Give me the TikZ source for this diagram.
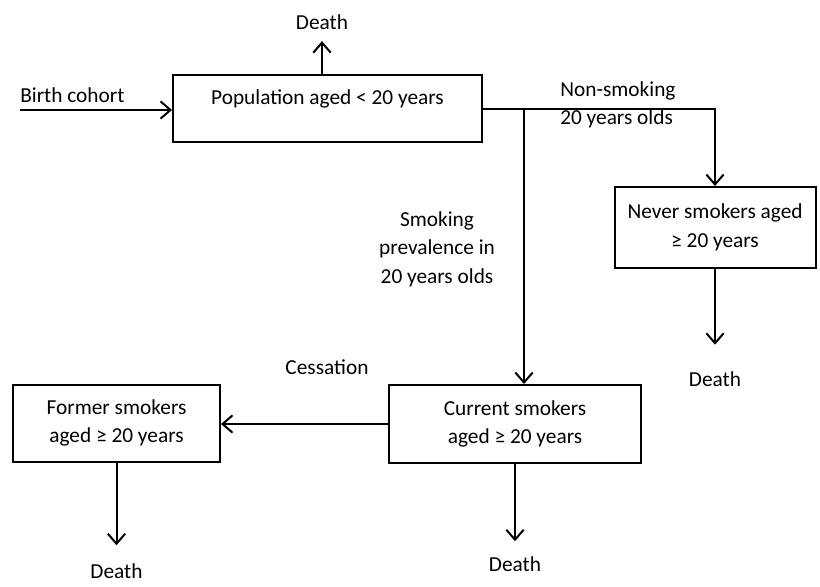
\documentclass[tikz,border=0pt]{standalone}
\usepackage{fontspec}
\setmainfont{Carlito}
\usepackage{tikz}
\usetikzlibrary{arrows.meta}
\usetikzlibrary{calc,positioning}

\tikzset{
    stage/.style={draw, line width=1.5pt, inner sep=0pt, align=center,
        font=\fontsize{16}{21.4}\selectfont},
    label/.style={inner sep=0pt, font=\fontsize{16}{21.4}\selectfont},
    death/.style={label, text height=10.5pt, text depth=0pt},
    flow/.style={-{Straight Barb[length=7.5pt,width=13pt,line width=1.5pt]}, line width=1.5pt}
}

\begin{document}
\begin{tikzpicture}[x=0.75pt, y=-0.75pt]

    \useasboundingbox (0,0) rectangle (820,586);

    % Boxes
    \node[stage, minimum width=231.75pt, minimum height=50.25pt,
          text height=10.5pt, text depth=17.25pt] (pop) at (327.5,108.5) {Population aged < 20 years};
    \node[stage, minimum width=150.75pt, minimum height=60.75pt] (never) at (715,227.5) {Never smokers aged\\≥ 20 years};
    \node[stage, minimum width=189pt, minimum height=58.5pt] (current) at (515,424) {Current smokers\\aged ≥ 20 years};
    \node[stage, minimum width=155.25pt, minimum height=57.75pt] (former) at (116.5,423) {Former smokers\\aged ≥ 20 years};

    % Deaths
    \node[death] (deathpop) at (322,22.5) {Death};
    \node[death] (deathnever) at (715,379) {Death};
    \node[death] (deathcurrent) at (515,564.5) {Death};
    \node[death] (deathformer) at (116.5,571.5) {Death};

    % Labels
    \node[label, anchor=west] (birth) at (20,95) {Birth cohort};
    \node[label, anchor=west, align=left] (nonsmoke) at (560,105) {Non-smoking\\20 years olds};
    \node[label, align=center] (prev) at (437,249) {Smoking\\prevalence in\\20 years olds};
    \node[label] (cess) at (327,367) {Cessation};

    % Flows
    \coordinate (birthin) at (20,110);
    \coordinate (split) at (524,108.5);
    \draw[flow] (birthin) -- (birthin -| pop.west);
    \draw[flow, shorten >=8.5pt] (deathpop |- pop.north) -- (deathpop.south);
    \draw[flow] (pop.east) -| (never.north);
    \draw[flow] (split) -- (split |- current.north);
    \draw[flow] (current.west) -- (current.west -| former.east);
    \draw[flow, shorten >=20.25pt] (never.south) -- (deathnever.north);
    \draw[flow, shorten >=12pt] (current.south) -- (deathcurrent.north);
    \draw[flow, shorten >=14.25pt] (former.south) -- (deathformer.north);

\end{tikzpicture}
\end{document}
